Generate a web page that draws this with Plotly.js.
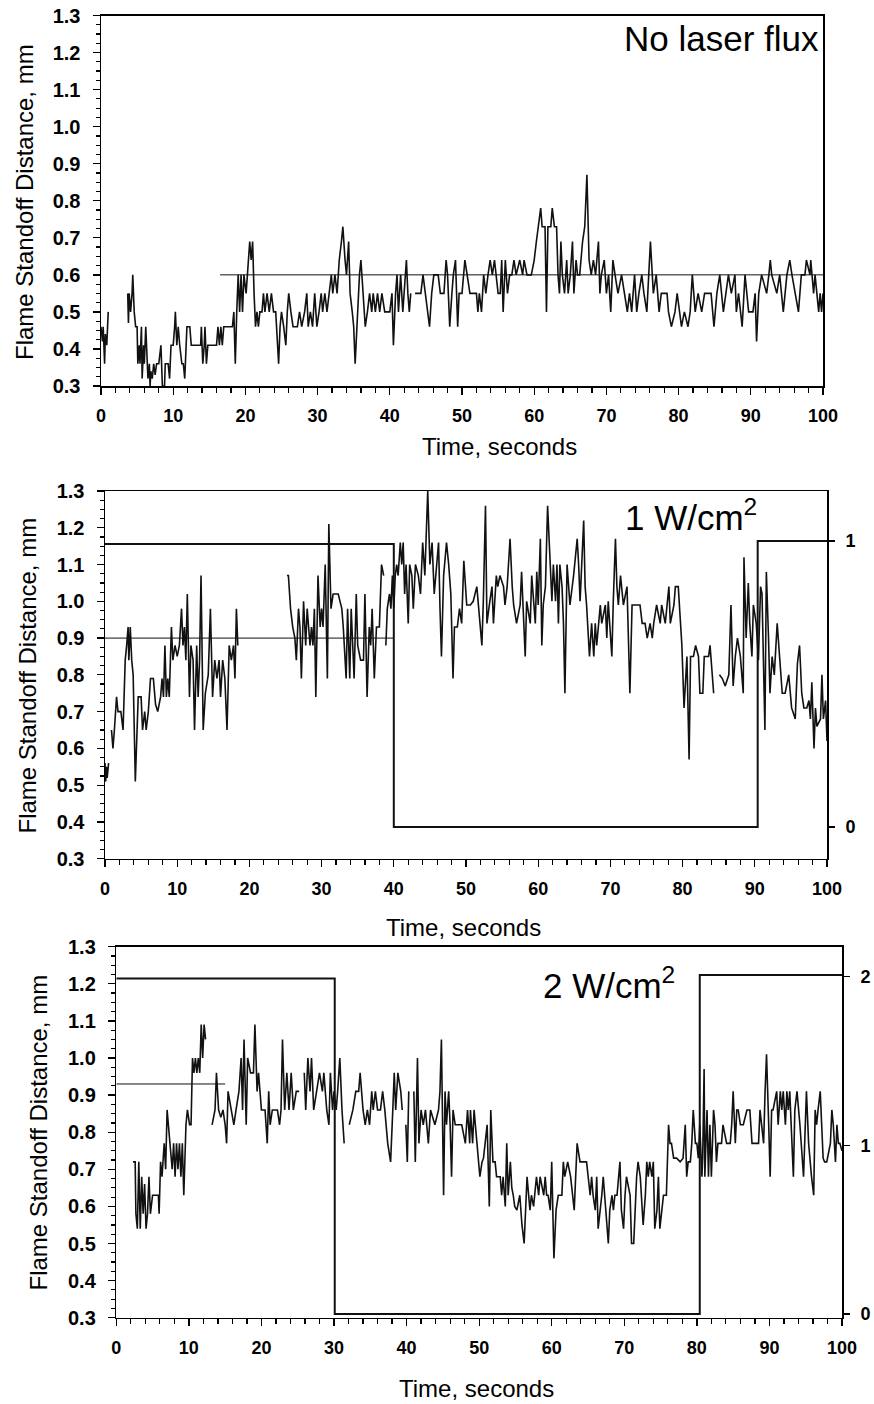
<!DOCTYPE html>
<html>
<head>
<meta charset="utf-8">
<script src="https://cdn.plot.ly/plotly-3.0.1.min.js"></script>
<style>html,body{margin:0;padding:0;background:#fff;}#chart{width:874px;height:1404px;}</style>
</head>
<body>
<div id="chart"></div>
<script>
// ---------------- DATA ----------------
// Panel 1: No laser flux  [time s, standoff mm]; null = gap in record
const noLaserStandoff = [
[0,0.46],[0.2,0.42],[0.3,0.46],[0.5,0.36],[0.6,0.44],[0.8,0.41],[1.0,0.5],[2.0,null],
[3.7,0.55],[3.8,0.47],[3.9,0.55],[4.1,0.5],[4.3,0.55],[4.4,0.6],[4.6,0.5],[4.8,0.46],[5.0,0.46],[5.1,0.36],[5.3,0.41],[5.4,0.36],[5.6,0.46],[5.7,0.32],[5.9,0.41],[6.0,0.36],[6.2,0.46],[6.4,0.36],[6.5,0.32],[6.7,0.36],[6.8,0.3],[6.9,0.34],[7.1,0.32],[7.3,0.36],[7.5,0.33],[7.7,0.36],[8.0,0.36],[8.3,0.41],[8.5,0.3],[8.8,0.3],[8.9,0.36],[9.3,0.36],[9.5,0.32],[9.7,0.41],[10.0,0.41],[10.2,0.46],[10.3,0.5],[10.5,0.41],[10.7,0.46],[10.9,0.41],[11.2,0.36],[11.4,0.36],[11.6,0.32],[11.9,0.46],[12.3,0.46],[12.5,0.41],[13.8,0.41],[13.9,0.46],[14.1,0.36],[14.3,0.41],[14.4,0.46],[14.6,0.36],[14.8,0.41],[15.0,0.41],[16.0,0.41],[16.2,0.46],[16.4,0.41],[16.6,0.46],[16.8,0.41],[17.0,0.46],[18.2,0.46],[18.4,0.5],[18.6,0.36],[18.8,0.5],[19.0,0.6],[19.2,0.5],[19.4,0.6],[19.6,0.5],[19.8,0.6],[20.1,0.55],[20.4,0.64],[20.6,0.69],[20.8,0.64],[21.0,0.69],[21.2,0.55],[21.4,0.46],[21.6,0.5],[21.8,0.46],[22.0,0.5],[22.3,0.5],[22.5,0.55],[22.7,0.5],[23.0,0.55],[23.3,0.5],[23.6,0.55],[23.9,0.5],[24.2,0.5],[24.4,0.41],[24.6,0.36],[24.8,0.46],[25.0,0.5],[25.3,0.46],[25.6,0.41],[25.8,0.5],[26.0,0.55],[26.3,0.5],[26.6,0.46],[27.2,0.46],[27.5,0.5],[27.8,0.46],[28.2,0.5],[28.5,0.55],[28.7,0.46],[29.0,0.5],[29.3,0.46],[29.6,0.55],[29.9,0.46],[30.2,0.5],[30.5,0.55],[30.7,0.5],[31.0,0.55],[31.3,0.5],[31.6,0.55],[31.9,0.6],[32.1,0.55],[32.4,0.6],[32.7,0.55],[33.0,0.64],[33.3,0.69],[33.5,0.73],[33.8,0.64],[34.0,0.6],[34.3,0.69],[34.5,0.55],[34.8,0.5],[35.0,0.46],[35.2,0.36],[35.5,0.5],[35.8,0.6],[36.0,0.64],[36.3,0.55],[36.6,0.46],[36.9,0.5],[37.2,0.55],[37.5,0.5],[37.7,0.55],[38.0,0.5],[38.3,0.55],[38.6,0.5],[38.9,0.55],[39.3,0.5],[40.0,0.5],[40.3,0.55],[40.5,0.41],[40.8,0.55],[41.0,0.6],[41.2,0.5],[41.5,0.6],[41.8,0.5],[42.1,0.6],[42.3,0.64],[42.5,0.55],[42.7,0.5],[42.9,0.55],[43.2,null],
[43.5,0.55],[44.3,0.55],[44.6,0.6],[44.9,0.55],[45.2,0.5],[45.5,0.46],[45.8,0.55],[46.1,0.6],[46.7,0.6],[47.0,0.55],[47.5,0.55],[47.8,0.64],[48.0,0.6],[48.3,0.46],[48.6,0.55],[48.8,0.6],[49.1,0.64],[49.4,0.46],[49.6,0.55],[50.0,0.55],[50.4,0.64],[50.7,0.6],[51.1,0.55],[52.0,0.55],[52.2,0.5],[52.4,0.55],[52.7,0.5],[53.0,0.6],[53.3,0.55],[53.6,0.6],[53.9,0.64],[54.2,0.6],[54.5,0.64],[55.0,0.55],[55.3,0.55],[55.5,0.64],[55.7,0.5],[56.0,0.64],[56.3,0.55],[56.6,0.6],[56.9,0.6],[57.2,0.64],[57.5,0.6],[58.0,0.64],[58.4,0.6],[58.6,0.64],[59.0,0.6],[59.6,0.6],[60.0,0.64],[60.3,0.69],[60.6,0.73],[60.9,0.78],[61.1,0.73],[61.5,0.73],[61.7,0.5],[61.9,0.73],[62.3,0.73],[62.5,0.78],[62.8,0.73],[63.1,0.73],[63.3,0.6],[63.5,0.55],[63.7,0.69],[63.9,0.6],[64.2,0.55],[64.5,0.64],[64.7,0.55],[65.0,0.6],[65.3,0.69],[65.5,0.55],[65.8,0.64],[66.0,0.6],[66.3,0.6],[66.7,0.69],[67.0,0.73],[67.3,0.87],[67.6,0.64],[67.9,0.6],[68.2,0.64],[68.5,0.6],[68.9,0.69],[69.1,0.55],[69.3,0.6],[69.7,0.64],[70.0,0.55],[70.3,0.6],[70.6,0.5],[70.9,0.64],[71.2,0.6],[71.6,0.55],[72.1,0.6],[72.5,0.55],[72.9,0.5],[73.2,0.55],[73.5,0.5],[73.9,0.6],[74.2,0.5],[74.5,0.55],[74.9,0.6],[75.2,0.55],[75.6,0.5],[76.1,0.69],[76.5,0.55],[76.9,0.6],[77.3,0.5],[77.6,0.55],[78.4,0.55],[78.6,0.5],[79.0,0.46],[79.5,0.5],[79.8,0.55],[80.4,0.46],[80.8,0.5],[81.3,0.46],[81.6,0.5],[81.9,0.6],[82.3,0.5],[82.7,0.55],[83.2,0.5],[83.6,0.55],[84.5,0.55],[84.9,0.46],[85.3,0.55],[85.7,0.6],[86.2,0.5],[86.9,0.6],[87.3,0.55],[87.8,0.6],[88.0,0.5],[88.3,0.55],[88.8,0.46],[89.2,0.6],[89.7,0.5],[90.3,0.5],[90.6,0.55],[90.8,0.42],[91.1,0.55],[91.5,0.6],[92.2,0.55],[92.5,0.6],[92.7,0.64],[92.9,0.6],[93.6,0.55],[94.0,0.6],[94.5,0.5],[95.0,0.6],[95.4,0.64],[95.7,0.6],[96.1,0.55],[96.6,0.5],[97.0,0.6],[97.5,0.6],[97.7,0.64],[98.2,0.6],[98.3,0.64],[98.7,0.55],[98.9,0.6],[99.1,0.55],[99.4,0.5],[99.6,0.55],[99.8,0.5],[100,0.55]
];
const noLaserRefTime = [16.5, 100];
const noLaserRefLevel = [0.6, 0.6];

// Panel 2: 1 W/cm2
const oneWattStandoff = [
[0,0.56],[0.1,0.51],[0.2,0.55],[0.3,0.52],[0.5,0.56],[0.7,null],
[0.9,0.65],[1.1,0.6],[1.3,0.65],[1.6,0.74],[1.8,0.7],[2.2,0.7],[2.5,0.65],[2.8,0.84],[3.0,0.88],[3.2,0.93],[3.3,0.84],[3.5,0.93],[3.7,0.84],[3.9,0.8],[4.2,0.51],[4.4,0.65],[4.6,0.74],[5.0,0.74],[5.2,0.65],[5.5,0.7],[5.7,0.65],[6.0,0.7],[6.3,0.79],[6.7,0.79],[7.0,0.72],[7.3,0.7],[7.7,0.74],[7.9,0.79],[8.1,0.74],[8.3,0.88],[8.5,0.74],[8.7,0.79],[8.9,0.74],[9.2,0.93],[9.4,0.84],[9.7,0.88],[10.0,0.85],[10.3,0.88],[10.6,0.98],[10.8,0.88],[11.0,0.93],[11.2,0.84],[11.4,1.02],[11.7,0.74],[11.9,0.88],[12.2,0.84],[12.4,0.65],[12.7,0.88],[12.9,0.74],[13.1,0.84],[13.3,1.07],[13.6,0.65],[13.9,0.75],[14.3,0.8],[14.6,0.98],[14.9,0.74],[15.2,0.84],[15.5,0.79],[15.8,0.84],[16.0,0.74],[16.3,0.84],[16.6,0.79],[16.9,0.65],[17.2,0.88],[17.5,0.84],[17.8,0.88],[18.0,0.79],[18.2,0.98],[18.4,0.88],[20,null],
[25.2,1.07],[25.4,1.07],[25.7,0.98],[26.0,0.93],[26.3,0.9],[26.5,0.84],[26.8,0.98],[27.0,0.93],[27.2,0.79],[27.5,1.0],[27.8,0.88],[28.0,0.98],[28.4,0.88],[28.6,0.93],[28.8,0.88],[29.0,0.98],[29.2,0.74],[29.5,1.07],[29.8,0.93],[30.0,0.98],[30.2,0.93],[30.5,1.1],[30.8,0.79],[31.0,1.21],[31.3,0.98],[31.6,1.02],[32.3,1.02],[32.8,0.98],[33.0,0.93],[33.4,0.79],[33.6,0.98],[33.9,0.79],[34.1,0.98],[34.5,0.79],[34.8,1.02],[35.0,0.88],[35.4,0.84],[35.8,0.84],[36.0,1.02],[36.3,0.74],[36.6,0.93],[36.8,0.88],[37.0,0.98],[37.3,0.79],[37.6,0.93],[38.0,0.93],[38.3,1.1],[38.6,1.07],[38.7,null],
[38.9,0.88],[39.1,0.98],[39.4,1.02],[39.6,0.98],[39.8,1.07],[40.0,0.98],[40.2,1.07],[40.4,1.1],[40.6,1.07],[40.9,1.16],[41.1,1.1],[41.3,1.16],[41.5,1.02],[41.7,1.1],[42.0,0.94],[42.2,1.1],[42.5,1.07],[42.7,0.98],[43.0,1.1],[43.4,1.07],[43.7,1.02],[44.0,1.16],[44.3,1.07],[44.7,1.3],[45.0,1.1],[45.3,1.16],[45.6,1.02],[45.9,1.1],[46.2,1.16],[46.4,0.98],[46.6,0.85],[46.9,1.07],[47.3,1.16],[47.6,1.1],[47.9,1.02],[48.2,0.79],[48.4,0.93],[48.8,0.93],[49.1,0.98],[49.4,0.94],[49.7,1.11],[50.1,0.99],[50.6,0.99],[51.0,1.0],[51.5,1.04],[52.2,0.88],[52.4,1.0],[52.7,1.26],[52.9,0.94],[53.3,1.0],[53.6,1.04],[53.8,0.94],[54.2,1.07],[54.4,1.04],[54.7,1.07],[55.2,1.04],[55.4,0.99],[55.7,1.04],[56.1,1.17],[56.4,1.04],[56.6,0.99],[57.0,0.94],[57.5,0.99],[57.7,1.08],[58.2,0.85],[58.4,1.0],[58.9,0.94],[59.1,1.07],[59.6,0.94],[59.8,1.08],[60.0,0.99],[60.3,1.17],[60.5,0.88],[60.7,0.99],[61.0,1.04],[61.3,1.26],[61.7,1.1],[61.9,1.0],[62.1,1.1],[62.4,1.0],[62.6,1.1],[62.8,0.94],[63.0,1.1],[63.3,1.04],[63.5,0.94],[63.7,0.75],[64.0,1.1],[64.4,0.99],[64.9,1.07],[65.4,1.17],[65.6,1.1],[65.8,1.0],[66.3,1.22],[66.5,1.04],[66.7,0.99],[67.1,0.85],[67.4,0.94],[67.7,0.85],[67.9,0.94],[68.1,0.88],[68.6,0.99],[68.8,0.94],[69.3,0.99],[69.5,0.9],[69.7,1.0],[70.2,0.85],[70.4,1.0],[70.7,1.17],[70.9,1.04],[71.1,0.99],[71.4,1.07],[71.8,0.99],[72.3,1.04],[72.7,0.75],[73.0,0.99],[74.1,0.99],[74.4,0.94],[74.8,0.94],[75.1,0.9],[75.5,0.94],[75.8,0.9],[76.0,0.94],[76.4,0.99],[76.9,0.94],[77.1,0.99],[77.6,0.94],[78.1,1.04],[78.3,0.94],[78.8,0.99],[79.0,1.04],[79.4,1.04],[79.9,0.88],[80.2,0.71],[80.6,0.85],[80.9,0.57],[81.1,0.85],[81.5,0.85],[81.8,0.88],[82.2,0.85],[82.4,0.75],[82.8,0.75],[83.0,0.85],[83.6,0.85],[83.8,0.88],[84.3,0.75],[84.6,null],
[85.1,0.8],[85.5,0.79],[85.9,0.77],[86.4,0.8],[86.7,0.99],[87.0,0.77],[87.3,0.85],[87.6,0.9],[88.0,0.85],[88.4,0.75],[88.5,1.12],[88.8,0.9],[89.1,1.05],[89.3,0.94],[89.6,0.85],[89.8,0.99],[90.2,0.94],[90.5,0.84],[90.8,1.04],[91.0,1.02],[91.4,0.65],[91.6,1.08],[91.9,0.9],[92.1,0.75],[92.4,0.85],[92.7,0.8],[93.1,0.94],[93.4,0.85],[93.8,0.75],[94.2,0.75],[94.7,0.8],[95.1,0.71],[95.6,0.68],[95.9,0.83],[96.2,0.88],[96.5,0.75],[96.8,0.71],[97.2,0.71],[97.5,0.73],[97.7,0.68],[97.9,0.78],[98.2,0.6],[98.4,0.71],[98.6,0.66],[99.1,0.68],[99.3,0.8],[99.5,0.68],[99.8,0.73],[100,0.62]
];
const oneWattRefTime = [0, 40];
const oneWattRefLevel = [0.9, 0.9];
const oneWattFluxTime = [0, 40.0, 40.0, 90.4, 90.4, 100];
const oneWattFluxLevel = [0.99, 0.99, 0, 0, 1.0, 1.0];

// Panel 3: 2 W/cm2
const twoWattStandoff = [
[2.3,0.72],[2.6,0.72],[2.7,0.58],[2.9,0.54],[3.1,0.72],[3.3,0.54],[3.5,0.68],[3.7,0.58],[3.9,0.66],[4.1,0.54],[4.3,0.58],[4.5,0.68],[4.7,0.58],[5.0,0.63],[5.8,0.63],[5.9,0.58],[6.1,0.72],[6.3,0.68],[6.6,0.77],[6.8,0.7],[7.0,0.86],[7.4,0.77],[7.7,0.7],[7.9,0.77],[8.1,0.68],[8.3,0.77],[8.5,0.7],[8.7,0.77],[8.9,0.68],[9.1,0.77],[9.3,0.63],[9.6,0.82],[9.8,0.86],[10.1,0.82],[10.3,0.82],[10.5,1.0],[10.7,0.96],[10.9,1.0],[11.1,0.96],[11.3,1.0],[11.5,0.96],[11.7,1.09],[11.9,1.0],[12.1,1.09],[12.3,1.05],[12.7,null],
[13.2,0.82],[13.6,0.86],[13.8,0.96],[14.1,0.86],[14.4,0.84],[14.7,0.86],[15.0,0.82],[15.2,0.77],[15.4,0.91],[15.8,0.86],[16.2,0.82],[16.5,0.86],[16.9,0.91],[17.2,1.0],[17.4,0.86],[17.6,1.05],[17.9,0.82],[18.1,1.0],[18.5,0.96],[18.9,0.96],[19.1,1.09],[19.4,0.91],[19.6,0.96],[20.0,0.86],[20.5,0.86],[20.8,0.77],[21.0,0.91],[21.2,0.82],[21.5,0.86],[22.2,0.86],[22.5,0.82],[22.7,0.86],[22.9,1.05],[23.2,0.86],[23.5,0.96],[23.8,0.86],[24.1,0.96],[24.4,0.86],[24.8,0.91],[25.2,0.91],[25.5,null],
[25.9,0.96],[26.1,0.86],[26.4,1.0],[26.7,0.91],[26.9,1.0],[27.2,0.86],[27.6,0.91],[28.0,0.96],[28.4,0.91],[28.6,0.96],[29.0,0.86],[29.3,0.82],[29.5,0.96],[29.8,0.86],[30.0,0.91],[30.3,0.86],[30.5,0.91],[30.8,1.0],[31.1,0.86],[31.4,0.77],[31.7,null],
[32.1,0.82],[32.6,0.86],[33.0,0.91],[33.4,0.91],[33.6,0.96],[34.0,0.86],[34.3,0.82],[34.6,0.86],[34.9,0.82],[35.2,0.91],[35.4,0.86],[35.7,0.91],[36.0,0.86],[36.4,0.86],[36.7,0.91],[37.0,0.86],[37.4,0.77],[37.8,0.72],[38.1,0.86],[38.3,0.96],[38.5,0.86],[38.8,0.96],[39.2,0.91],[39.4,0.86],[39.6,null],
[39.9,0.82],[40.1,0.72],[40.3,0.91],[40.6,null],
[41.0,0.91],[41.2,0.72],[41.5,1.0],[41.7,0.77],[42.0,0.86],[42.3,0.82],[42.6,0.86],[43.0,0.77],[43.3,0.86],[43.9,0.82],[44.4,0.86],[44.6,0.91],[44.8,1.05],[45.1,0.63],[45.3,0.91],[45.5,0.82],[45.8,0.91],[46.0,0.82],[46.2,0.68],[46.4,0.86],[46.7,0.82],[47.6,0.82],[48.1,0.77],[48.4,0.86],[48.7,0.77],[48.8,0.86],[49.1,0.77],[49.3,0.86],[49.7,0.77],[50.1,0.68],[50.4,0.72],[50.6,0.73],[51.1,0.82],[51.4,0.6],[51.6,0.86],[51.9,0.72],[52.2,0.72],[52.4,0.68],[52.9,0.68],[53.1,0.63],[53.3,0.68],[53.6,0.6],[53.8,0.77],[54.0,0.63],[54.3,0.72],[54.5,0.65],[54.7,0.63],[54.9,0.6],[55.2,0.59],[55.6,0.63],[55.9,0.55],[56.2,0.5],[56.6,0.68],[57.0,0.59],[57.2,0.63],[57.5,0.6],[57.9,0.68],[58.2,0.63],[58.4,0.68],[58.9,0.63],[59.1,0.68],[59.3,0.63],[59.5,0.63],[59.8,0.59],[60.0,0.72],[60.2,0.55],[60.3,0.46],[60.6,0.59],[60.9,0.63],[61.4,0.63],[61.6,0.72],[61.8,0.68],[62.2,0.72],[62.6,0.68],[63.1,0.59],[63.5,0.77],[63.9,0.72],[64.8,0.72],[65.3,0.63],[65.5,0.68],[65.7,0.63],[66.0,0.59],[66.2,0.68],[66.4,0.54],[66.7,0.59],[66.9,0.63],[67.1,0.68],[67.6,0.54],[67.8,0.5],[68.0,0.59],[68.3,0.63],[68.5,0.59],[68.7,0.63],[69.0,0.63],[69.2,0.68],[69.4,0.72],[69.6,0.59],[69.9,0.54],[70.1,0.63],[70.3,0.68],[70.8,0.63],[71.0,0.5],[71.3,0.5],[71.7,0.68],[71.9,0.72],[72.2,0.68],[72.6,0.55],[72.9,0.63],[73.1,0.72],[73.3,0.68],[73.5,0.72],[73.8,0.68],[74.0,0.72],[74.2,0.54],[74.5,0.59],[74.7,0.68],[74.9,0.54],[75.4,0.63],[75.8,0.63],[76.1,0.82],[76.3,0.77],[76.5,0.77],[76.8,0.73],[77.2,0.73],[77.7,0.72],[78.1,0.73],[78.4,0.82],[78.6,0.68],[78.8,0.72],[79.1,0.72],[79.3,0.77],[79.5,0.86],[79.8,0.77],[80.0,0.77],[80.2,0.73],[80.4,0.82],[80.7,0.68],[80.8,0.73],[81.0,0.97],[81.1,0.68],[81.4,0.86],[81.6,0.68],[81.8,0.82],[82.0,0.68],[82.3,0.86],[82.5,0.82],[82.7,0.72],[82.9,0.77],[83.4,0.77],[83.6,0.82],[84.1,0.77],[84.6,0.77],[84.8,0.82],[85.0,0.91],[85.3,0.77],[85.5,0.86],[85.7,0.86],[86.0,0.82],[86.4,0.82],[86.9,0.86],[87.3,0.86],[87.6,0.77],[87.8,0.77],[88.5,0.77],[88.7,0.86],[89.2,0.77],[89.4,0.91],[89.6,1.01],[89.9,0.82],[90.1,0.68],[90.3,0.86],[90.5,0.86],[91.0,0.91],[91.2,0.82],[91.5,0.91],[91.7,0.86],[91.9,0.91],[92.2,0.82],[92.4,0.91],[92.6,0.86],[92.8,0.91],[93.1,0.77],[93.3,0.68],[93.5,0.86],[93.8,0.91],[94.2,0.82],[94.7,0.68],[95.1,0.91],[95.4,0.77],[95.8,0.68],[96.1,0.63],[96.3,0.86],[96.5,0.82],[96.7,0.86],[97.0,0.91],[97.2,0.82],[97.4,0.73],[97.6,0.72],[97.9,0.72],[98.4,0.77],[98.6,0.86],[98.8,0.82],[99.1,0.72],[99.3,0.82],[99.5,0.77],[99.7,0.77],[100,0.75]
];
const twoWattRefTime = [0, 15];
const twoWattRefLevel = [0.93, 0.93];
const twoWattFluxTime = [0, 30.1, 30.1, 80.4, 80.4, 100];
const twoWattFluxLevel = [1.99, 1.99, 0, 0, 2.01, 2.01];

const timeTicks = [0,10,20,30,40,50,60,70,80,90,100];
const panelLabels = ["No laser flux", "1 W/cm<sup>2</sup>", "2 W/cm<sup>2</sup>"];
const xTitle = "Time, seconds";
const yTitle = "Flame Standoff Distance, mm";

// ---------------- STYLE / LAYOUT ----------------
const FONT = "Liberation Sans, Arial, sans-serif";
const xTickFont = {family: FONT, size: 18, color: "#000", weight: "bold"};
const yTickFont = {family: FONT, size: 20, color: "#000", weight: "bold"};
const xs = a => a.map(p => p[0]);
const ys = a => a.map(p => p[1]);

function dataTrace(arr, xa, ya) {
  return {x: xs(arr), y: ys(arr), xaxis: xa, yaxis: ya, type: "scatter", mode: "lines",
          line: {color: "#111", width: 1.6}, connectgaps: false, hoverinfo: "skip"};
}
function plainTrace(xv, yv, xa, ya, w) {
  return {x: xv, y: yv, xaxis: xa, yaxis: ya, type: "scatter", mode: "lines",
          line: {color: "#111", width: w}, hoverinfo: "skip"};
}

const traces = [
  plainTrace(noLaserRefTime, noLaserRefLevel, "x", "y", 1),
  dataTrace(noLaserStandoff, "x", "y"),
  plainTrace(oneWattRefTime, oneWattRefLevel, "x2", "y2", 1),
  dataTrace(oneWattStandoff, "x2", "y2"),
  plainTrace(oneWattFluxTime, oneWattFluxLevel, "x2", "y3", 2),
  plainTrace(twoWattRefTime, twoWattRefLevel, "x3", "y4", 1),
  dataTrace(twoWattStandoff, "x3", "y4"),
  plainTrace(twoWattFluxTime, twoWattFluxLevel, "x3", "y5", 2)
];

function xAxis(domain, anchor) {
  return {domain: domain, anchor: anchor, range: [0, 100], tickvals: timeTicks,
    ticks: "outside", ticklen: 7, tickwidth: 1.3, tickcolor: "#000",
    showline: true, linecolor: "#000", linewidth: 1.5, mirror: true,
    showgrid: false, zeroline: false, tickfont: xTickFont, ticklabelstandoff: 6,
    minor: {dtick: 2, ticks: "outside", ticklen: 5, tickwidth: 1.2, tickcolor: "#000", showgrid: false}};
}
function yAxis(domain, anchor) {
  return {domain: domain, anchor: anchor, range: [0.3, 1.3], tick0: 0.3, dtick: 0.1, tickformat: ".1f",
    ticks: "outside", ticklen: 7, tickwidth: 1.3, tickcolor: "#000",
    showline: true, linecolor: "#000", linewidth: 1.5, mirror: true,
    showgrid: false, zeroline: false, tickfont: yTickFont, ticklabelstandoff: 8,
    minor: {dtick: 0.025, ticks: "outside", ticklen: 4, tickwidth: 1.2, tickcolor: "#000", showgrid: false}};
}
function fluxAxis(over, anchor, range, vals) {
  return {overlaying: over, anchor: anchor, side: "right", range: range, tickvals: vals,
    ticks: "outside", ticklen: 7, tickwidth: 1.3, tickcolor: "#000", showline: false,
    showgrid: false, zeroline: false, ticklabelstandoff: 7,
    tickfont: {family: FONT, size: 18, color: "#000", weight: "bold"}};
}

const W = 874, H = 1404;
const px = v => v / W, py = v => 1 - v / H;

const annFont = {family: FONT, size: 35, color: "#000"};
const titleFont = {family: FONT, size: 24, color: "#000"};
const annotations = [
  {text: panelLabels[0], xref: "paper", yref: "paper", x: px(821), y: py(38), xanchor: "right", yanchor: "middle", showarrow: false, font: annFont},
  {text: panelLabels[1], xref: "paper", yref: "paper", x: px(623), y: py(515), xanchor: "left", yanchor: "middle", showarrow: false, font: annFont},
  {text: panelLabels[2], xref: "paper", yref: "paper", x: px(541), y: py(983), xanchor: "left", yanchor: "middle", showarrow: false, font: annFont},
  {text: xTitle, xref: "paper", yref: "paper", x: px(499), y: py(447), xanchor: "center", yanchor: "middle", showarrow: false, font: titleFont},
  {text: xTitle, xref: "paper", yref: "paper", x: px(463), y: py(927), xanchor: "center", yanchor: "middle", showarrow: false, font: titleFont},
  {text: xTitle, xref: "paper", yref: "paper", x: px(477), y: py(1388), xanchor: "center", yanchor: "middle", showarrow: false, font: titleFont},
  {text: yTitle, xref: "paper", yref: "paper", x: px(24), y: py(202), xanchor: "center", yanchor: "middle", textangle: -90, showarrow: false, font: titleFont},
  {text: yTitle, xref: "paper", yref: "paper", x: px(27.5), y: py(676), xanchor: "center", yanchor: "middle", textangle: -90, showarrow: false, font: titleFont},
  {text: yTitle, xref: "paper", yref: "paper", x: px(37.5), y: py(1133), xanchor: "center", yanchor: "middle", textangle: -90, showarrow: false, font: titleFont}
];

const layout = {
  width: W, height: H, margin: {l: 0, r: 0, t: 0, b: 0},
  paper_bgcolor: "#fff", plot_bgcolor: "#fff", showlegend: false,
  font: {family: FONT, color: "#000"},
  xaxis: xAxis([px(101), px(823)], "y"),
  yaxis: yAxis([py(386), py(15.5)], "x"),
  xaxis2: xAxis([px(105), px(827)], "y2"),
  yaxis2: yAxis([py(858.7), py(491)], "x2"),
  yaxis3: fluxAxis("y2", "x2", [-0.111, 1.175], [0, 1]),
  xaxis3: xAxis([px(116.3), px(842)], "y4"),
  yaxis4: yAxis([py(1317.7), py(946.7)], "x3"),
  yaxis5: fluxAxis("y4", "x3", [-0.022, 2.178], [0, 1, 2]),
  annotations: annotations
};

Plotly.newPlot("chart", traces, layout, {staticPlot: true, displayModeBar: false});
</script>
</body>
</html>
